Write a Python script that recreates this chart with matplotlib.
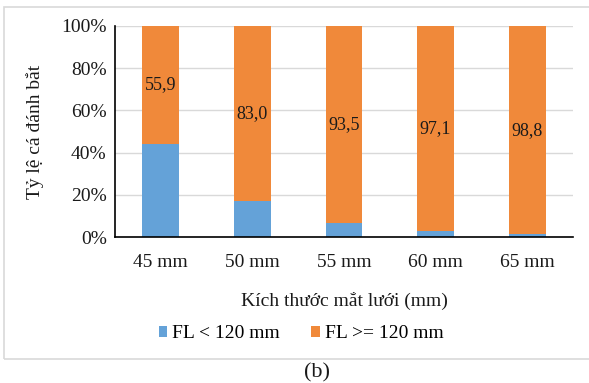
""" Stacked 100% bars: catch ratio by mesh size """

import matplotlib.pyplot as plt
from matplotlib.patches import Rectangle
from matplotlib.ticker import PercentFormatter

plt.rcParams['font.family'] = ['Liberation Serif', 'DejaVu Serif']

sizes = ["45 mm", "50 mm", "55 mm", "60 mm", "65 mm"]
small = [44.1, 17.0, 6.5, 2.9, 1.2]
large = [55.9, 83.0, 93.5, 97.1, 98.8]
large_labels = ["55,9", "83,0", "93,5", "97,1", "98,8"]

fig = plt.figure(figsize=(5.89, 3.83), dpi=100)
ax = fig.add_axes([115 / 589, 1 - 237 / 383, 458 / 589, 211 / 383])

x = range(len(sizes))
ax.bar(x, small, width=0.4, color='#64a2d8', label="FL < 120 mm", zorder=2)
ax.bar(x, large, width=0.4, bottom=small, color='#f0893a',
       label="FL >= 120 mm", zorder=2)
for i in x:
    ax.text(i, small[i] + large[i] / 2, large_labels[i], ha='center',
            va='center', fontsize=13, color='#1a1a1a', zorder=3)

ax.set_xlim(-0.5, len(sizes) - 0.5)
ax.set_ylim(0, 100)
ax.set_yticks(range(0, 101, 20))
ax.yaxis.set_major_formatter(PercentFormatter(decimals=0))
ax.set_xticks(list(x))
ax.set_xticklabels(sizes)
ax.tick_params(length=0, labelsize=14, colors='#1a1a1a')
ax.tick_params(axis='x', pad=12)
ax.tick_params(axis='y', pad=6)
ax.grid(axis='y', color='#d9d9d9', lw=1, zorder=0)
for s in ['top', 'right']:
    ax.spines[s].set_visible(False)
ax.spines['left'].set_color('black')
ax.spines['bottom'].set_color('black')
ax.spines['left'].set_linewidth(1.2)
ax.spines['bottom'].set_linewidth(1.2)

ax.set_xlabel("Kích thước mắt lưới (mm)", fontsize=14, color='#1a1a1a',
              labelpad=15)
ax.set_ylabel("Tỷ lệ cá đánh bắt", fontsize=14, color='#1a1a1a', labelpad=12)

fig.legend(loc='center', bbox_to_anchor=(301 / 589, 1 - 334 / 383), ncol=2,
           frameon=False, fontsize=14, handlelength=0.45, handleheight=0.45,
           handletextpad=0.25, columnspacing=1.6)

fig.patches.append(Rectangle((4 / 589, 1 - 359 / 383), 1.0, 352 / 383,
                             transform=fig.transFigure, fill=False,
                             edgecolor='#d9d9d9', lw=1.2))
fig.text(317 / 589, 1 - 373 / 383, "(b)", ha='center', va='center',
         fontsize=16, color='#1a1a1a')

plt.savefig('out.png', dpi=100)
